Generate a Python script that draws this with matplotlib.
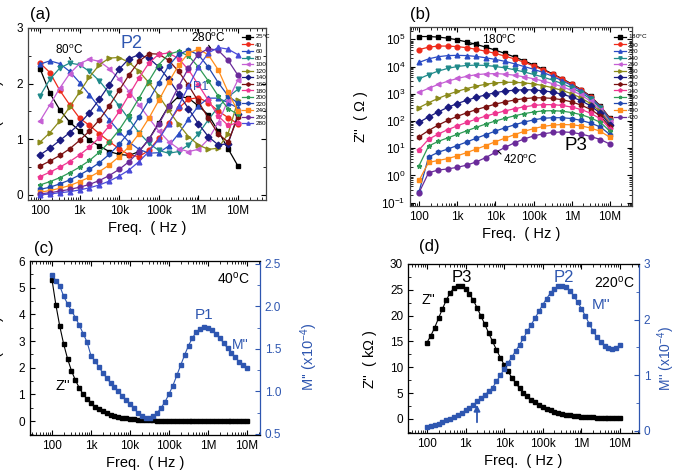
import numpy as np
import matplotlib
matplotlib.use('Agg')
import matplotlib.pyplot as plt
from matplotlib.ticker import FixedLocator, LogLocator, NullFormatter, MultipleLocator

plt.rcParams['font.family'] = ['Liberation Sans', 'DejaVu Sans']
plt.rcParams['mathtext.fontset'] = 'custom'
plt.rcParams['mathtext.rm'] = 'Liberation Sans'
plt.rcParams['mathtext.it'] = 'Liberation Sans:italic'

W, H = 674, 476

# ---------------- data ----------------
# log10 of frequency (Hz) grid for panels (a) and (b)
logf_ab = [2.0, 2.25, 2.5, 2.75, 3.0, 3.25, 3.5, 3.75, 4.0, 4.25, 4.5,
           4.75, 5.0, 5.25, 5.5, 5.75, 6.0, 6.25, 6.5, 6.75, 7.0]

# (a) M'' (x1e-4) at different temperatures
labels_a = ['25$^\\mathrm{o}$C', '40', '60', '80', '100', '120', '140', '160',
            '180', '200', '220', '240', '260', '280']
m25 = [2.27, 1.83, 1.53, 1.31, 1.15, 0.99, 0.88, 0.78, 0.73, 0.71, 0.78, 1.0, 1.3, 1.6, 1.77, 1.74, 1.6, 1.44, 1.15, 0.83, 0.52]
m40 = [2.37, 2.2, 1.88, 1.62, 1.38, 1.25, 1.1, 0.96, 0.83, 0.72, 0.69, 0.8, 1.02, 1.3, 1.56, 1.72, 1.75, 1.66, 1.51, 1.39, 1.28]
m60 = [2.35, 2.41, 2.36, 2.22, 2.02, 1.8, 1.57, 1.35, 1.14, 0.95, 0.82, 0.75, 0.76, 0.88, 1.1, 1.36, 1.6, 1.74, 1.74, 1.66, 1.56]
m80 = [1.78, 2.08, 2.28, 2.37, 2.34, 2.22, 2.05, 1.83, 1.6, 1.36, 1.12, 0.93, 0.8, 0.75, 0.78, 0.9, 1.1, 1.35, 1.58, 1.76, 1.9]
m100 = [1.33, 1.62, 1.92, 2.18, 2.36, 2.44, 2.4, 2.27, 2.08, 1.86, 1.62, 1.38, 1.15, 0.96, 0.83, 0.78, 0.82, 1.0, 1.3, 1.7, 2.07]
m120 = [0.95, 1.12, 1.33, 1.58, 1.85, 2.12, 2.34, 2.46, 2.47, 2.38, 2.22, 2.02, 1.78, 1.52, 1.27, 1.05, 0.9, 0.82, 0.84, 1.1, 1.7]
m140 = [0.72, 0.84, 0.98, 1.12, 1.28, 1.48, 1.72, 1.98, 2.26, 2.45, 2.52, 2.46, 2.3, 2.08, 1.82, 1.55, 1.28, 1.05, 0.9, 0.92, 1.45]
m160 = [0.52, 0.61, 0.71, 0.83, 0.98, 1.15, 1.35, 1.6, 1.88, 2.16, 2.4, 2.54, 2.53, 2.42, 2.22, 1.97, 1.68, 1.38, 1.1, 0.95, 1.4]
m180 = [0.33, 0.41, 0.5, 0.6, 0.72, 0.86, 1.03, 1.24, 1.5, 1.8, 2.1, 2.37, 2.53, 2.55, 2.45, 2.25, 1.98, 1.7, 1.42, 1.25, 1.3]
m200 = [0.18, 0.24, 0.31, 0.4, 0.5, 0.62, 0.77, 0.95, 1.17, 1.44, 1.74, 2.05, 2.34, 2.53, 2.58, 2.5, 2.3, 2.05, 1.78, 1.55, 1.45]
m220 = [0.1, 0.14, 0.2, 0.27, 0.36, 0.46, 0.58, 0.73, 0.91, 1.13, 1.4, 1.7, 2.02, 2.32, 2.53, 2.6, 2.52, 2.3, 2.02, 1.78, 1.65]
m240 = [0.05, 0.08, 0.12, 0.17, 0.24, 0.32, 0.42, 0.54, 0.69, 0.87, 1.1, 1.38, 1.7, 2.03, 2.33, 2.55, 2.62, 2.52, 2.25, 1.85, 1.5]
m260 = [0.02, 0.04, 0.07, 0.1, 0.14, 0.19, 0.26, 0.35, 0.46, 0.6, 0.78, 1.0, 1.27, 1.6, 1.95, 2.28, 2.53, 2.63, 2.6, 2.42, 2.15]
m280 = [0.0, 0.02, 0.04, 0.06, 0.09, 0.13, 0.18, 0.25, 0.34, 0.45, 0.6, 0.78, 1.0, 1.28, 1.6, 1.95, 2.3, 2.55, 2.65, 2.62, 2.52]
series_a = [m25, m40, m60, m80, m100, m120, m140, m160, m180, m200, m220, m240, m260, m280]

# (b) log10 Z'' (Ohm) at different temperatures
labels_b = ['180$^\\mathrm{o}$C', '200', '220', '240', '260', '280', '300', '320',
            '340', '360', '380', '400', '420']
z180 = [5.1, 5.1, 5.08, 5.04, 4.98, 4.9, 4.81, 4.71, 4.6, 4.48, 4.35, 4.21, 4.06, 3.9, 3.73, 3.55, 3.36, 3.15, 2.9, 2.55, 2.1]
z200 = [4.62, 4.71, 4.75, 4.75, 4.73, 4.69, 4.63, 4.56, 4.48, 4.38, 4.28, 4.16, 4.02, 3.87, 3.71, 3.53, 3.34, 3.13, 2.88, 2.53, 2.08]
z220 = [4.15, 4.28, 4.36, 4.4, 4.41, 4.4, 4.37, 4.32, 4.26, 4.19, 4.1, 4.0, 3.9, 3.78, 3.64, 3.48, 3.3, 3.1, 2.86, 2.52, 2.05]
z240 = [3.55, 3.7, 3.83, 3.93, 4.0, 4.04, 4.05, 4.04, 4.0, 3.95, 3.88, 3.8, 3.71, 3.61, 3.5, 3.37, 3.22, 3.03, 2.8, 2.47, 2.0]
z260 = [3.05, 3.2, 3.34, 3.46, 3.56, 3.64, 3.7, 3.73, 3.74, 3.72, 3.68, 3.62, 3.55, 3.47, 3.37, 3.26, 3.12, 2.95, 2.72, 2.42, 1.95]
z280 = [2.49, 2.67, 2.83, 2.97, 3.09, 3.19, 3.28, 3.35, 3.4, 3.42, 3.42, 3.4, 3.36, 3.3, 3.22, 3.12, 3.0, 2.84, 2.63, 2.35, 1.9]
z300 = [1.95, 2.15, 2.33, 2.5, 2.64, 2.76, 2.87, 2.96, 3.04, 3.1, 3.13, 3.15, 3.14, 3.11, 3.06, 2.98, 2.88, 2.74, 2.55, 2.28, 1.85]
z320 = [1.42, 1.65, 1.85, 2.02, 2.17, 2.3, 2.42, 2.52, 2.62, 2.7, 2.77, 2.82, 2.85, 2.85, 2.83, 2.78, 2.7, 2.58, 2.42, 2.18, 1.78]
z340 = [0.94, 1.33, 1.52, 1.68, 1.82, 1.95, 2.07, 2.18, 2.28, 2.37, 2.45, 2.52, 2.57, 2.6, 2.6, 2.57, 2.51, 2.42, 2.28, 2.08, 1.72]
z360 = [0.36, 1.08, 1.25, 1.38, 1.51, 1.64, 1.77, 1.89, 2.0, 2.1, 2.19, 2.27, 2.33, 2.37, 2.38, 2.36, 2.31, 2.23, 2.11, 1.95, 1.62]
z380 = [-0.6, 0.68, 0.85, 0.97, 1.1, 1.23, 1.37, 1.5, 1.63, 1.75, 1.86, 1.96, 2.04, 2.1, 2.12, 2.12, 2.09, 2.02, 1.92, 1.78, 1.5]
z400 = [-0.18, 0.48, 0.55, 0.62, 0.72, 0.84, 0.97, 1.1, 1.24, 1.37, 1.5, 1.62, 1.72, 1.8, 1.85, 1.87, 1.86, 1.82, 1.74, 1.62, 1.4]
z420 = [-0.63, 0.1, 0.2, 0.24, 0.3, 0.38, 0.5, 0.66, 0.85, 1.03, 1.2, 1.34, 1.45, 1.53, 1.58, 1.6, 1.58, 1.52, 1.43, 1.32, 1.15]
series_b = [z180, z200, z220, z240, z260, z280, z300, z320, z340, z360, z380, z400, z420]

# log10 frequency grid for panels (c) and (d)
logf_cd = [2.0, 2.1, 2.2, 2.3, 2.4, 2.5, 2.6, 2.7, 2.8, 2.9, 3.0, 3.1, 3.2, 3.3, 3.4, 3.5,
           3.6, 3.7, 3.8, 3.9, 4.0, 4.1, 4.2, 4.3, 4.4, 4.5, 4.6, 4.7, 4.8, 4.9, 5.0,
           5.1, 5.2, 5.3, 5.4, 5.5, 5.6, 5.7, 5.8, 5.9, 6.0, 6.1, 6.2, 6.3, 6.4, 6.5,
           6.6, 6.7, 6.8, 6.9, 7.0]
# (c) 40 C : Z'' (MOhm) and M'' (x1e-4)
z_c = [5.3, 4.35, 3.55, 2.88, 2.33, 1.88, 1.53, 1.24, 1.0, 0.82, 0.67, 0.54, 0.44, 0.36, 0.29,
       0.23, 0.19, 0.15, 0.12, 0.1, 0.08, 0.065, 0.05, 0.04, 0.033, 0.027, 0.022, 0.018,
       0.015, 0.012, 0.01, 0.009, 0.008, 0.007, 0.006, 0.005, 0.005, 0.004, 0.004, 0.003,
       0.003, 0.003, 0.002, 0.002, 0.002, 0.002, 0.001, 0.001, 0.001, 0.001, 0.001]
m_c = [2.37, 2.3, 2.24, 2.12, 2.03, 1.95, 1.87, 1.78, 1.68, 1.58, 1.42, 1.36, 1.29, 1.22,
       1.16, 1.1, 1.05, 1.0, 0.95, 0.9, 0.85, 0.8, 0.75, 0.71, 0.69, 0.69, 0.71, 0.75, 0.81,
       0.88, 0.97, 1.07, 1.19, 1.31, 1.43, 1.54, 1.63, 1.7, 1.74, 1.76, 1.75, 1.72, 1.68,
       1.63, 1.57, 1.51, 1.45, 1.4, 1.35, 1.31, 1.28]
# (d) 220 C : Z'' (kOhm) and M'' (x1e-4)
z_d = [14.8, 16.1, 17.7, 19.5, 21.3, 23.0, 24.4, 25.4, 25.8, 25.7, 25.2, 24.2, 23.0, 21.5,
       19.9, 18.3, 16.6, 15.0, 13.4, 11.9, 10.5, 9.2, 8.0, 6.9, 6.0, 5.1, 4.4, 3.7, 3.2,
       2.7, 2.3, 1.95, 1.65, 1.4, 1.18, 1.0, 0.85, 0.72, 0.62, 0.53, 0.46, 0.4, 0.35, 0.31,
       0.28, 0.25, 0.23, 0.21, 0.2, 0.19, 0.18]
m_d = [0.07, 0.09, 0.11, 0.13, 0.16, 0.19, 0.22, 0.25, 0.29, 0.33, 0.37, 0.42, 0.47, 0.53,
       0.59, 0.65, 0.71, 0.78, 0.89, 1.0, 1.11, 1.22, 1.33, 1.44, 1.55, 1.67, 1.79, 1.91,
       2.03, 2.15, 2.27, 2.38, 2.48, 2.55, 2.6, 2.61, 2.58, 2.52, 2.43, 2.32, 2.2, 2.07,
       1.93, 1.8, 1.69, 1.6, 1.53, 1.49, 1.47, 1.49, 1.55]

freq_ticks = [1e2, 1e3, 1e4, 1e5, 1e6, 1e7]
freq_labels = ['100', '1k', '10k', '100k', '1M', '10M']

colors13 = ['#000000', '#ee2a1a', '#2a4bc4', '#1f8a8a', '#c55fd4', '#8a8a1a', '#1a1a80',
            '#7a1010', '#ee3590', '#2e9a55', '#2048b0', '#ff8c1a', '#6a2a9a', '#4a4ad8']
markers14 = ['s', 'o', '^', 'v', '<', '>', 'D', 'h', 'p', '*', 'h', 's', 'o', '^']
BLUE = '#2e56b0'

fig = plt.figure(figsize=(W / 100, H / 100), dpi=100)


def box(l, t, r, b):
    return [l / W, 1 - b / H, (r - l) / W, (b - t) / H]


def ftext(x, y, s, **kw):
    fig.text(x / W, 1 - y / H, s, **kw)


def farrow(x0, y0, x1, y1, color='k', lw=0.8, head=False):
    style = '-|>' if head else '-'
    fig.add_artist(matplotlib.patches.FancyArrowPatch(
        (x0 / W, 1 - y0 / H), (x1 / W, 1 - y1 / H), transform=fig.transFigure,
        arrowstyle=style, mutation_scale=9, color=color, lw=lw))


def style_freq_axis(ax, xmin, xmax):
    ax.set_xscale('log')
    ax.set_xlim(xmin, xmax)
    ax.xaxis.set_major_locator(FixedLocator(freq_ticks))
    ax.set_xticklabels(freq_labels)
    ax.xaxis.set_minor_locator(LogLocator(base=10, subs=np.arange(2, 10), numticks=20))
    ax.xaxis.set_minor_formatter(NullFormatter())
    ax.set_xlabel('Freq.  ( Hz )', fontsize=10.5, labelpad=3)
    ax.tick_params(axis='both', which='both', direction='in', labelsize=8.5)
    ax.tick_params(which='major', length=3.5, width=0.8)
    ax.tick_params(which='minor', length=2, width=0.6)
    for s in ax.spines.values():
        s.set_linewidth(0.9)
        s.set_color('#444444')


# ---------------- (a) ----------------
fa = 10 ** np.array(logf_ab)
axa = fig.add_axes(box(28, 28, 266, 200))
for vals, lab, c, mk in zip(series_a, labels_a, colors13, markers14):
    axa.plot(fa, vals, color=c, marker=mk, ms=3.4, lw=0.9, label=lab)
style_freq_axis(axa, 49.8, 5.1e7)
axa.set_ylim(-0.09, 3.0)
axa.yaxis.set_major_locator(MultipleLocator(1))
axa.yaxis.set_minor_locator(MultipleLocator(0.5))
axa.tick_params(top=True, right=True, which='both')
axa.set_ylabel("M'' (x10$^{-4}$)", fontsize=10.5)
axa.yaxis.set_label_coords(-0.085, 0.5)
axa.legend(loc='upper left', bbox_to_anchor=(0.885, 0.99), fontsize=4.6, frameon=False,
           handlelength=1.8, handletextpad=0.3, labelspacing=0.17, borderpad=0,
           markerscale=0.7)
ftext(30, 14, '(a)', fontsize=12, va='center', ha='left')
ftext(55, 50, '80$^\\mathrm{o}$C', fontsize=8.5, va='center', ha='left')
farrow(68, 55, 72, 62)
ftext(120, 43, 'P2', fontsize=13, color=BLUE, va='center', ha='left')
ftext(191, 38, '280$^\\mathrm{o}$C', fontsize=8.5, va='center', ha='left')
farrow(207, 43, 212, 50)
ftext(193, 87, 'P1', fontsize=9, color=BLUE, va='center', ha='left')

# ---------------- (b) ----------------
axb = fig.add_axes(box(410, 27, 632, 206))
for vals, lab, c, mk in zip(series_b, labels_b, colors13, markers14):
    axb.plot(fa, 10 ** np.array(vals), color=c, marker=mk, ms=3.4, lw=0.9, label=lab)
style_freq_axis(axb, 58, 3.77e7)
axb.set_yscale('log')
axb.set_ylim(10 ** -1.12, 10 ** 5.45)
axb.yaxis.set_major_locator(LogLocator(base=10, numticks=10))
axb.yaxis.set_minor_locator(LogLocator(base=10, subs=np.arange(2, 10), numticks=20))
axb.yaxis.set_minor_formatter(NullFormatter())
axb.tick_params(top=True, right=True, which='both', direction='in', labelsize=8.5)
axb.set_ylabel("Z''  ( $\\Omega$ )", fontsize=10.5)
axb.yaxis.set_label_coords(-0.18, 0.5)
axb.legend(loc='upper left', bbox_to_anchor=(0.905, 0.985), fontsize=4.6, frameon=False,
           handlelength=1.8, handletextpad=0.3, labelspacing=0.17, borderpad=0,
           markerscale=0.7)
ftext(410, 14, '(b)', fontsize=12, va='center', ha='left')
ftext(482, 40, '180$^\\mathrm{o}$C', fontsize=8.5, va='center', ha='left')
farrow(481, 41, 466, 46)
ftext(503, 160, '420$^\\mathrm{o}$C', fontsize=8.5, va='center', ha='left')
farrow(503, 156, 496, 149)
ftext(564, 146, 'P3', fontsize=13.5, va='center', ha='left')

# ---------------- (c) ----------------
fcd = 10 ** np.array(logf_cd)
axc = fig.add_axes(box(30, 261, 260, 435))
axc.plot(fcd, z_c, color='k', marker='s', ms=3.0, lw=0.8)
style_freq_axis(axc, 27.3, 2.15e7)
axc.set_ylim(-0.525, 6)
axc.yaxis.set_major_locator(MultipleLocator(1))
axc.yaxis.set_minor_locator(MultipleLocator(0.5))
axc.tick_params(top=True, which='both')
axc.spines['right'].set_visible(False)
axc.set_ylabel("Z''  ( M$\\Omega$ )", fontsize=10.5)
axc.yaxis.set_label_coords(-0.105, 0.5)
axc2 = axc.twinx()
axc2.plot(fcd, m_c, color=BLUE, marker='s', ms=3.0, lw=0.8)
axc2.set_ylim(0.488, 2.535)
axc2.yaxis.set_major_locator(FixedLocator([0.5, 1.0, 1.5, 2.0, 2.5]))
axc2.set_yticklabels(['0.5', '1.0', '1.5', '2.0', '2.5'])
axc2.yaxis.set_minor_locator(MultipleLocator(0.25))
axc2.tick_params(axis='y', which='both', direction='in', colors=BLUE, labelsize=8.5)
axc2.tick_params(which='major', length=3.5)
axc2.tick_params(which='minor', length=2)
axc2.spines['right'].set_color(BLUE)
axc2.spines['right'].set_linewidth(0.9)
axc2.set_ylabel("M'' (x10$^{-4}$)", fontsize=10.5, color=BLUE)
axc2.yaxis.set_label_coords(1.165, 0.45)
ftext(34, 249, '(c)', fontsize=12, va='center', ha='left')
ftext(217, 279, '40$^\\mathrm{o}$C', fontsize=10, va='center', ha='left')
ftext(195, 315, 'P1', fontsize=11, color=BLUE, va='center', ha='left')
ftext(232, 345, "M''", fontsize=10, color=BLUE, va='center', ha='left')
ftext(55, 386, "Z''", fontsize=10.5, va='center', ha='left')

# ---------------- (d) ----------------
axd = fig.add_axes(box(408, 264, 639, 433))
axd.plot(fcd, z_d, color='k', marker='s', ms=3.0, lw=0.8)
style_freq_axis(axd, 32.3, 3.1e7)
axd.set_ylim(-2.71, 30)
axd.yaxis.set_major_locator(MultipleLocator(5))
axd.yaxis.set_minor_locator(MultipleLocator(2.5))
axd.tick_params(top=True, which='both')
axd.spines['right'].set_visible(False)
axd.set_ylabel("Z''  ( k$\\Omega$ )", fontsize=10.5)
axd.yaxis.set_label_coords(-0.125, 0.44)
axd2 = axd.twinx()
axd2.plot(fcd, m_d, color=BLUE, marker='s', ms=3.0, lw=0.8)
axd2.set_ylim(-0.036, 3)
axd2.yaxis.set_major_locator(MultipleLocator(1))
axd2.yaxis.set_minor_locator(MultipleLocator(0.5))
axd2.tick_params(axis='y', which='both', direction='in', colors=BLUE, labelsize=8.5)
axd2.tick_params(which='major', length=3.5)
axd2.tick_params(which='minor', length=2)
axd2.spines['right'].set_color(BLUE)
axd2.spines['right'].set_linewidth(0.9)
axd2.set_ylabel("M'' (x10$^{-4}$)", fontsize=10, color=BLUE)
axd2.yaxis.set_label_coords(1.07, 0.44)
ftext(419, 246, '(d)', fontsize=12, va='center', ha='left')
ftext(452, 277, 'P3', fontsize=12, va='center', ha='left')
ftext(554, 277, 'P2', fontsize=12, color=BLUE, va='center', ha='left')
ftext(594, 283, '220$^\\mathrm{o}$C', fontsize=10, va='center', ha='left')
ftext(422, 300, "Z''", fontsize=10, va='center', ha='left')
ftext(592, 305, "M''", fontsize=11, color=BLUE, va='center', ha='left')
farrow(477, 425, 477, 402, color=BLUE, lw=1.3, head=True)

fig.savefig('out.png', dpi=100)
